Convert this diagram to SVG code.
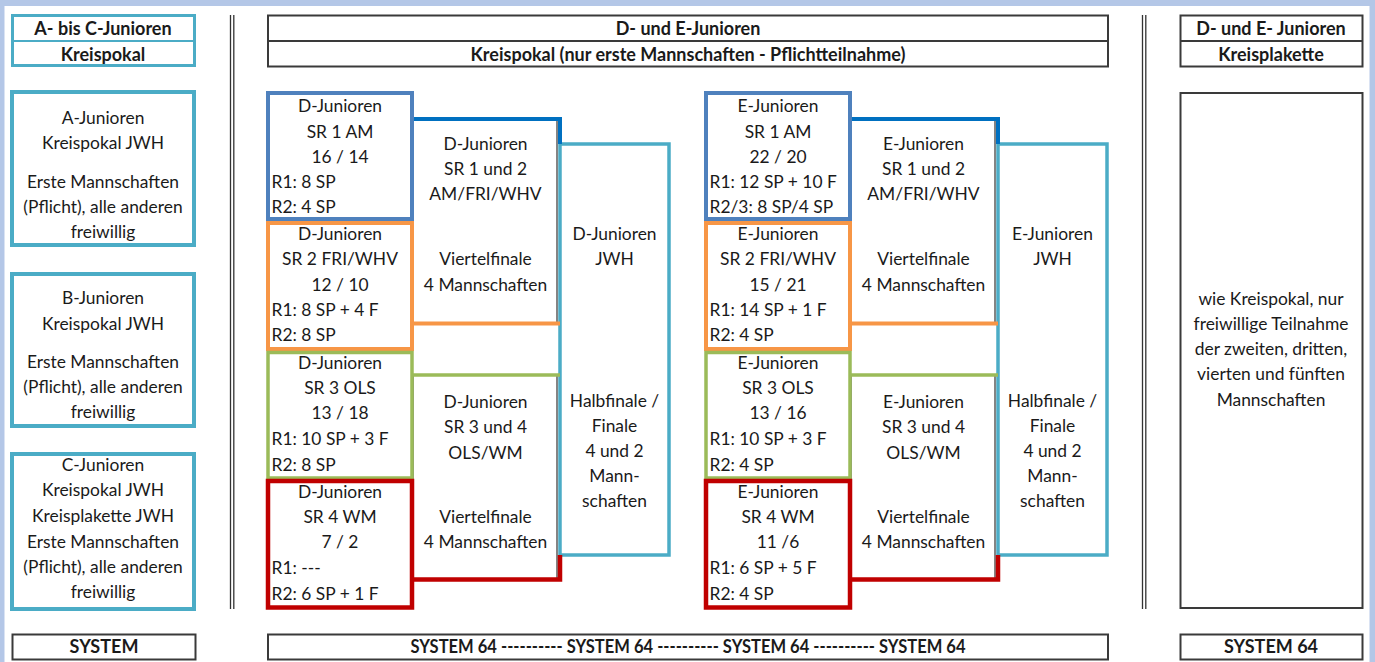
<svg xmlns="http://www.w3.org/2000/svg" width="1375" height="662" viewBox="0 0 1375 662">
<style>
text{font-family:Lato,"Open Sans","Liberation Sans",sans-serif;font-size:17.4px;fill:#1a1a1a;text-anchor:middle}
.l{text-anchor:start}
.b{font-weight:bold;font-size:18px}
.hdr{fill:#fff;stroke:#3a3a3a;stroke-width:2}
.hdrt{fill:#fff;stroke:#4bacc6;stroke-width:3}
.teal{fill:#fff;stroke:#4bacc6;stroke-width:4}
.sr1{fill:#fff;stroke:#4f81bd;stroke-width:4}
.sr2{fill:#fff;stroke:#f79646;stroke-width:4}
.sr3{fill:#fff;stroke:#9bbb59;stroke-width:3.5}
.sr4{fill:#fff;stroke:#c00000;stroke-width:4.5}
.jwh{fill:#fff;stroke:#4bacc6;stroke-width:3.5}
.thin{fill:#fff;stroke:#333;stroke-width:1.2}
.dbl{stroke:#333;stroke-width:1.3;fill:none}
.c{fill:none;stroke-linecap:butt;stroke-linejoin:miter}
</style>
<rect x="0" y="0" width="1375" height="662" fill="#b4c7e7"/>
<rect x="4.5" y="6" width="1365" height="656" fill="#fff"/>

<g id="separators">
<path class="dbl" d="M230.5,15V609M233.8,15V609M1142.5,15V609M1145.8,15V609"/>
</g>

<g id="hdr-left">
<rect class="hdrt" x="12.5" y="15.5" width="182" height="50"/>
<line x1="12.5" y1="41" x2="194.5" y2="41" stroke="#4bacc6" stroke-width="2"/>
<text class="b" x="103" y="35">A- bis C-Junioren</text>
<text class="b" x="103" y="61">Kreispokal</text>
</g>
<g id="hdr-mid">
<rect class="hdr" x="268" y="15.5" width="840" height="51"/>
<line x1="268" y1="41" x2="1108" y2="41" stroke="#3a3a3a" stroke-width="2"/>
<text class="b" x="688" y="35">D- und E-Junioren</text>
<text class="b" x="688" y="61">Kreispokal (nur erste Mannschaften - Pflichtteilnahme)</text>
</g>
<g id="hdr-right">
<rect class="hdr" x="1180.5" y="15.5" width="182" height="51"/>
<line x1="1180.5" y1="41" x2="1362.5" y2="41" stroke="#3a3a3a" stroke-width="2"/>
<text class="b" x="1271" y="35">D- und E- Junioren</text>
<text class="b" x="1271" y="61">Kreisplakette</text>
</g>

<g id="a-junioren">
<rect class="teal" x="12" y="92" width="182" height="153"/>
<text x="103" y="124">A-Junioren</text>
<text x="103" y="149">Kreispokal JWH</text>
<text x="103" y="188">Erste Mannschaften</text>
<text x="103" y="213">(Pflicht), alle anderen</text>
<text x="103" y="238">freiwillig</text>
</g>
<g id="b-junioren">
<rect class="teal" x="12" y="274" width="182" height="152"/>
<text x="103" y="304">B-Junioren</text>
<text x="103" y="330">Kreispokal JWH</text>
<text x="103" y="368">Erste Mannschaften</text>
<text x="103" y="393">(Pflicht), alle anderen</text>
<text x="103" y="418">freiwillig</text>
</g>
<g id="c-junioren">
<rect class="teal" x="12" y="454" width="182" height="155"/>
<text x="103" y="471">C-Junioren</text>
<text x="103" y="496">Kreispokal JWH</text>
<text x="103" y="522">Kreisplakette JWH</text>
<text x="103" y="548">Erste Mannschaften</text>
<text x="103" y="573">(Pflicht), alle anderen</text>
<text x="103" y="598">freiwillig</text>
</g>

<!-- D section -->
<g id="d-vf12">
<rect class="thin" x="413" y="119" width="144" height="204"/>
<text x="485.5" y="150">D-Junioren</text>
<text x="485.5" y="175">SR 1 und 2</text>
<text x="485.5" y="200">AM/FRI/WHV</text>
<text x="485.5" y="265">Viertelfinale</text>
<text x="485.5" y="291">4 Mannschaften</text>
</g>
<g id="d-vf34">
<rect class="thin" x="413" y="375" width="144" height="204"/>
<text x="485.5" y="408">D-Junioren</text>
<text x="485.5" y="433">SR 3 und 4</text>
<text x="485.5" y="459">OLS/WM</text>
<text x="485.5" y="523">Viertelfinale</text>
<text x="485.5" y="548">4 Mannschaften</text>
</g>
<g id="d-jwh">
<rect class="jwh" x="560" y="144" width="109" height="411"/>
<text x="614.5" y="240">D-Junioren</text>
<text x="614.5" y="265">JWH</text>
<text x="614.5" y="407">Halbfinale /</text>
<text x="614.5" y="432">Finale</text>
<text x="614.5" y="457">4 und 2</text>
<text x="614.5" y="482">Mann-</text>
<text x="614.5" y="507">schaften</text>
</g>

<!-- E section -->
<g id="e-vf12">
<rect class="thin" x="851" y="119" width="144" height="204"/>
<text x="923.5" y="150">E-Junioren</text>
<text x="923.5" y="175">SR 1 und 2</text>
<text x="923.5" y="200">AM/FRI/WHV</text>
<text x="923.5" y="265">Viertelfinale</text>
<text x="923.5" y="291">4 Mannschaften</text>
</g>
<g id="e-vf34">
<rect class="thin" x="851" y="375" width="144" height="204"/>
<text x="923.5" y="408">E-Junioren</text>
<text x="923.5" y="433">SR 3 und 4</text>
<text x="923.5" y="459">OLS/WM</text>
<text x="923.5" y="523">Viertelfinale</text>
<text x="923.5" y="548">4 Mannschaften</text>
</g>
<g id="e-jwh">
<rect class="jwh" x="998" y="144" width="109" height="411"/>
<text x="1052.5" y="240">E-Junioren</text>
<text x="1052.5" y="265">JWH</text>
<text x="1052.5" y="407">Halbfinale /</text>
<text x="1052.5" y="432">Finale</text>
<text x="1052.5" y="457">4 und 2</text>
<text x="1052.5" y="482">Mann-</text>
<text x="1052.5" y="507">schaften</text>
</g>

<g id="connectors">
<path class="c" d="M412,119H560V144" stroke="#0070c0" stroke-width="4"/>
<path class="c" d="M412,323.5H560" stroke="#f79646" stroke-width="4"/>
<path class="c" d="M412,375H560" stroke="#9bbb59" stroke-width="3.5"/>
<path class="c" d="M412,579.5H560V555" stroke="#c00000" stroke-width="4.5"/>
<path class="c" d="M850,119H998V144" stroke="#0070c0" stroke-width="4"/>
<path class="c" d="M850,323.5H998" stroke="#f79646" stroke-width="4"/>
<path class="c" d="M850,375H998" stroke="#9bbb59" stroke-width="3.5"/>
<path class="c" d="M850,579.5H998V555" stroke="#c00000" stroke-width="4.5"/>
</g>

<g id="d-sr1">
<rect class="sr1" x="268" y="93" width="144" height="126"/>
<text x="340" y="112">D-Junioren</text>
<text x="340" y="137.5">SR 1 AM</text>
<text x="340" y="163">16 / 14</text>
<text class="l" x="271.5" y="188">R1: 8 SP</text>
<text class="l" x="271.5" y="213">R2: 4 SP</text>
</g>
<g id="d-sr2">
<rect class="sr2" x="268" y="223" width="144" height="126"/>
<text x="340" y="240">D-Junioren</text>
<text x="340" y="265">SR 2 FRI/WHV</text>
<text x="340" y="291">12 / 10</text>
<text class="l" x="271.5" y="316">R1: 8 SP + 4 F</text>
<text class="l" x="271.5" y="341">R2: 8 SP</text>
</g>
<g id="d-sr3">
<rect class="sr3" x="268" y="352.5" width="144" height="125.5"/>
<text x="340" y="369">D-Junioren</text>
<text x="340" y="394">SR 3 OLS</text>
<text x="340" y="419">13 / 18</text>
<text class="l" x="271.5" y="445">R1: 10 SP + 3 F</text>
<text class="l" x="271.5" y="471">R2: 8 SP</text>
</g>
<g id="d-sr4">
<rect class="sr4" x="268" y="481" width="144" height="126.5"/>
<text x="340" y="498">D-Junioren</text>
<text x="340" y="523">SR 4 WM</text>
<text x="340" y="548">7 / 2</text>
<text class="l" x="271.5" y="574">R1: ---</text>
<text class="l" x="271.5" y="600">R2: 6 SP + 1 F</text>
</g>

<g id="e-sr1">
<rect class="sr1" x="706" y="93" width="144" height="126"/>
<text x="778" y="112">E-Junioren</text>
<text x="778" y="137.5">SR 1 AM</text>
<text x="778" y="163">22 / 20</text>
<text class="l" x="709.5" y="188">R1: 12 SP + 10 F</text>
<text class="l" x="709.5" y="213">R2/3: 8 SP/4 SP</text>
</g>
<g id="e-sr2">
<rect class="sr2" x="706" y="223" width="144" height="126"/>
<text x="778" y="240">E-Junioren</text>
<text x="778" y="265">SR 2 FRI/WHV</text>
<text x="778" y="291">15 / 21</text>
<text class="l" x="709.5" y="316">R1: 14 SP + 1 F</text>
<text class="l" x="709.5" y="341">R2: 4 SP</text>
</g>
<g id="e-sr3">
<rect class="sr3" x="706" y="352.5" width="144" height="125.5"/>
<text x="778" y="369">E-Junioren</text>
<text x="778" y="394">SR 3 OLS</text>
<text x="778" y="419">13 / 16</text>
<text class="l" x="709.5" y="445">R1: 10 SP + 3 F</text>
<text class="l" x="709.5" y="471">R2: 4 SP</text>
</g>
<g id="e-sr4">
<rect class="sr4" x="706" y="481" width="144" height="126.5"/>
<text x="778" y="498">E-Junioren</text>
<text x="778" y="523">SR 4 WM</text>
<text x="778" y="548">11 /6</text>
<text class="l" x="709.5" y="574">R1: 6 SP + 5 F</text>
<text class="l" x="709.5" y="600">R2: 4 SP</text>
</g>

<g id="kreisplakette">
<rect class="hdr" x="1180.5" y="93" width="182" height="515" stroke-width="1.6"/>
<text x="1271" y="305">wie Kreispokal, nur</text>
<text x="1271" y="330">freiwillige Teilnahme</text>
<text x="1271" y="355">der zweiten, dritten,</text>
<text x="1271" y="380">vierten und fünften</text>
<text x="1271" y="406">Mannschaften</text>
</g>

<g id="system-left">
<rect class="hdr" x="12.5" y="634.5" width="183" height="25"/>
<text class="b" x="104" y="653">SYSTEM</text>
</g>
<g id="system-mid">
<rect class="hdr" x="268" y="634.5" width="840" height="25"/>
<text class="b" x="688" y="653" textLength="555" lengthAdjust="spacingAndGlyphs">SYSTEM 64 ----------  SYSTEM 64 ---------- SYSTEM 64 ---------- SYSTEM 64</text>
</g>
<g id="system-right">
<rect class="hdr" x="1180.5" y="634.5" width="182" height="25"/>
<text class="b" x="1271" y="653">SYSTEM 64</text>
</g>
</svg>
